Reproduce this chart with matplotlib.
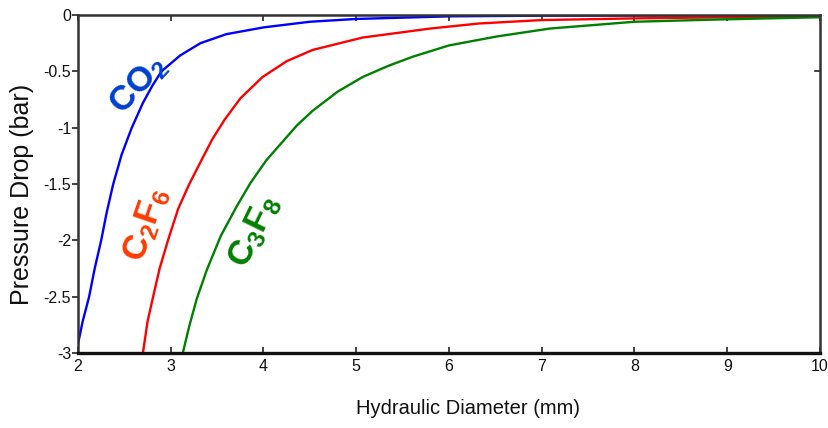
import matplotlib
matplotlib.use("Agg")
import matplotlib.pyplot as plt

# ---- data ----
co2_x = [2.0, 2.05, 2.12, 2.18, 2.25, 2.31, 2.38, 2.47, 2.58, 2.70, 2.80, 2.90, 3.10, 3.32, 3.60, 4.0, 4.5, 5.0, 6.0, 7.0, 8.0, 10.0]
co2_y = [-2.92, -2.72, -2.50, -2.25, -2.00, -1.75, -1.50, -1.24, -1.00, -0.78, -0.63, -0.50, -0.36, -0.25, -0.17, -0.11, -0.06, -0.035, -0.012, -0.006, -0.004, -0.002]

c2f6_x = [2.70, 2.75, 2.81, 2.88, 2.97, 3.08, 3.20, 3.33, 3.45, 3.58, 3.75, 3.99, 4.25, 4.53, 5.07, 5.80, 6.33, 7.0, 8.0, 9.0, 10.0]
c2f6_y = [-3.0, -2.72, -2.50, -2.25, -2.00, -1.72, -1.50, -1.29, -1.10, -0.93, -0.74, -0.55, -0.41, -0.31, -0.20, -0.12, -0.075, -0.045, -0.03, -0.02, -0.01]

c3f8_x = [3.13, 3.20, 3.28, 3.39, 3.54, 3.71, 3.86, 4.03, 4.20, 4.36, 4.53, 4.80, 5.07, 5.35, 5.61, 6.0, 6.52, 7.09, 8.0, 8.9, 10.0]
c3f8_y = [-3.0, -2.76, -2.52, -2.26, -1.96, -1.70, -1.49, -1.29, -1.13, -0.98, -0.85, -0.68, -0.55, -0.45, -0.37, -0.27, -0.19, -0.12, -0.06, -0.04, -0.02]

x_ticks = [2, 3, 4, 5, 6, 7, 8, 9, 10]
x_ticklabels = ["2", "3", "4", "5", "6", "7", "8", "9", "10"]
y_ticks = [0, -0.5, -1, -1.5, -2, -2.5, -3]
y_ticklabels = ["0", "-0.5", "-1", "-1.5", "-2", "-2.5", "-3"]

x_label = "Hydraulic Diameter (mm)"
y_label = "Pressure Drop (bar)"

# ---- style ----
plt.rcParams["font.family"] = ["Liberation Sans", "DejaVu Sans"]
plt.rcParams["axes.unicode_minus"] = False
plt.rcParams["mathtext.fontset"] = "custom"
plt.rcParams["mathtext.rm"] = "Liberation Sans:bold"
plt.rcParams["mathtext.it"] = "Liberation Sans:bold"
plt.rcParams["mathtext.bf"] = "Liberation Sans:bold"

W, H = 829, 428
fig = plt.figure(figsize=(W / 100, H / 100), dpi=100)
L, R, T, B = 78, 820, 15, 353
ax = fig.add_axes([L / W, 1 - B / H, (R - L) / W, (B - T) / H])

kw = dict(lw=1.7, solid_joinstyle="round", solid_capstyle="butt")
ax.plot(co2_x, co2_y, color="#0000ff", **kw)
ax.plot(c2f6_x, c2f6_y, color="#ff0000", **kw)
ax.plot(c3f8_x, c3f8_y, color="#008000", **kw)

ax.set_xlim(2, 10)
ax.set_ylim(-3, 0)
ax.set_xticks(x_ticks)
ax.set_xticklabels(x_ticklabels)
ax.set_yticks(y_ticks)
ax.set_yticklabels(y_ticklabels)

for lab in ax.get_xticklabels() + ax.get_yticklabels():
    lab.set_fontsize(11.5)
    lab.set_color("#111111")

ax.tick_params(axis="x", which="both", direction="in", top=True, bottom=True,
               length=4, width=1.2, color="#222222", pad=4)
ax.tick_params(axis="y", which="both", direction="out", left=True, right=False,
               length=4, width=1.2, color="#222222", pad=1)
# single inward tick on the right spine at -0.5
ax.plot([10 - 0.05, 10], [-0.5, -0.5], color="#222222", lw=1.2, clip_on=False)

for side in ["top", "right", "left"]:
    ax.spines[side].set_linewidth(1.8)
    ax.spines[side].set_color("#333333")
ax.spines["bottom"].set_linewidth(2.4)
ax.spines["bottom"].set_color("#111111")

# axis labels
fig.text(468 / W, 1 - 409 / H, x_label, ha="center", va="center",
         fontsize=14.5, color="#111111")
fig.text(22 / W, 1 - 194 / H, y_label, ha="center", va="center", rotation=90,
         fontsize=18, color="#111111")

# curve labels
ax.text(2.65, -0.62, r"CO$_{2}$", color="#0040d0", fontsize=25, fontweight="bold",
        rotation=47, ha="center", va="center")
ax.text(2.74, -1.86, r"C$_{2}$F$_{6}$", color="#ff3a00", fontsize=25, fontweight="bold",
        rotation=71, ha="center", va="center")
ax.text(3.90, -1.92, r"C$_{3}$F$_{8}$", color="#008000", fontsize=25, fontweight="bold",
        rotation=64, ha="center", va="center")

fig.savefig("out.png", dpi=100)
